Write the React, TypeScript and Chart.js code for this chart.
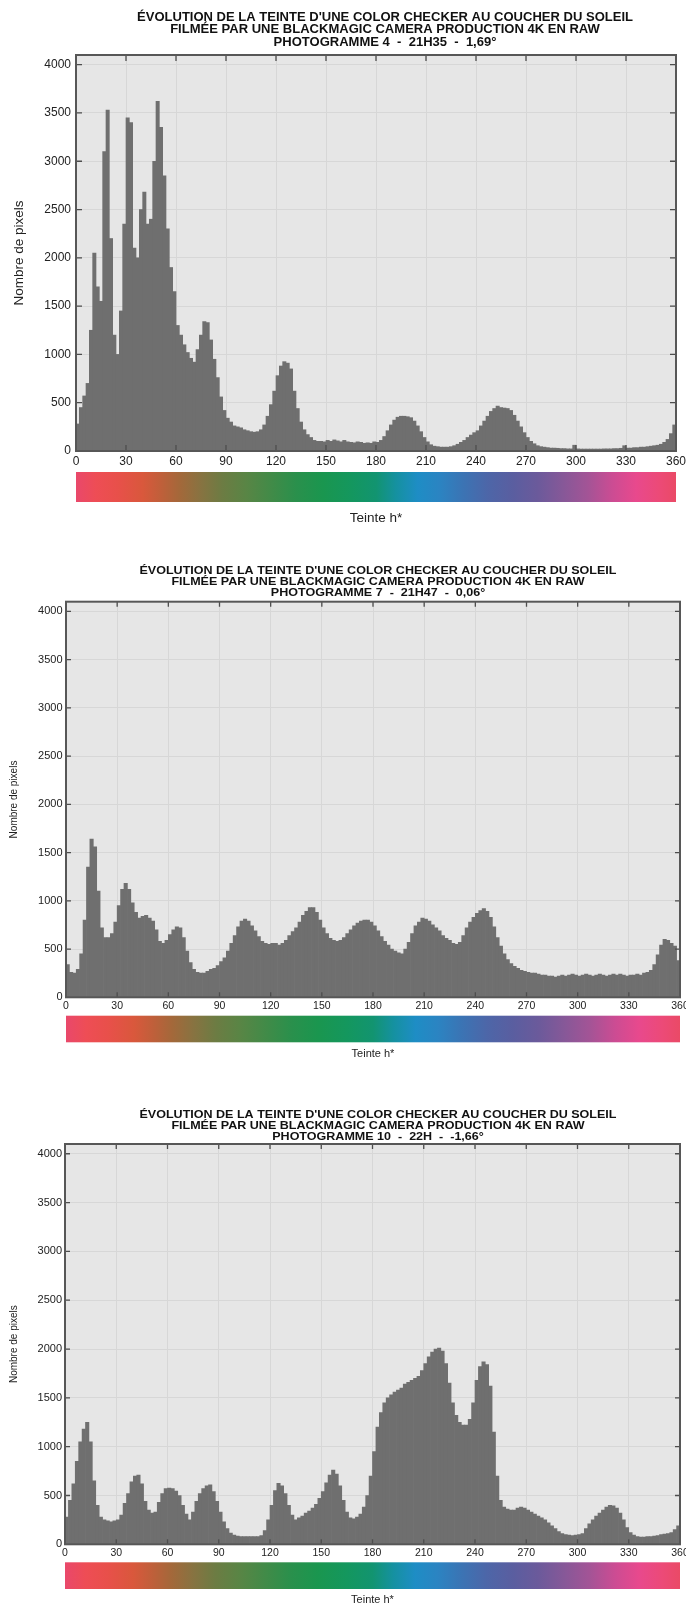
import React, { useEffect, useRef } from "react";
import { Chart, registerables } from "chart.js";

Chart.register(...registerables);

// ---------- DATA ----------
// Hue bins (2° wide, centre of each bin)
const HUE_BINS = [
  1, 3, 5, 7, 9, 11, 13, 15, 17, 19, 21, 23, 25, 27, 29,
  31, 33, 35, 37, 39, 41, 43, 45, 47, 49, 51, 53, 55, 57, 59,
  61, 63, 65, 67, 69, 71, 73, 75, 77, 79, 81, 83, 85, 87, 89,
  91, 93, 95, 97, 99, 101, 103, 105, 107, 109, 111, 113, 115, 117, 119,
  121, 123, 125, 127, 129, 131, 133, 135, 137, 139, 141, 143, 145, 147, 149,
  151, 153, 155, 157, 159, 161, 163, 165, 167, 169, 171, 173, 175, 177, 179,
  181, 183, 185, 187, 189, 191, 193, 195, 197, 199, 201, 203, 205, 207, 209,
  211, 213, 215, 217, 219, 221, 223, 225, 227, 229, 231, 233, 235, 237, 239,
  241, 243, 245, 247, 249, 251, 253, 255, 257, 259, 261, 263, 265, 267, 269,
  271, 273, 275, 277, 279, 281, 283, 285, 287, 289, 291, 293, 295, 297, 299,
  301, 303, 305, 307, 309, 311, 313, 315, 317, 319, 321, 323, 325, 327, 329,
  331, 333, 335, 337, 339, 341, 343, 345, 347, 349, 351, 353, 355, 357, 359,
];

// Photogramme 4 - 21H35 - 1,69°
const PHOTO4_COUNTS = [
  280, 450, 570, 700, 1250, 2050, 1700, 1550, 3100, 3530, 2200, 1200, 1000, 1450, 2350,
  3450, 3400, 2100, 2000, 2500, 2680, 2350, 2400, 3000, 3620, 3350, 2850, 2300, 1900, 1650,
  1300, 1200, 1100, 1020, 960, 920, 1050, 1200, 1340, 1330, 1150, 950, 760, 560, 420,
  340, 300, 260, 250, 240, 220, 210, 200, 195, 200, 220, 270, 360, 480, 620,
  780, 880, 925, 910, 850, 620, 440, 300, 220, 170, 140, 110, 100, 100, 95,
  110, 100, 115, 105, 95, 110, 95, 90, 85, 95, 90, 80, 85, 80, 95,
  90, 110, 150, 210, 270, 320, 350, 360, 360, 355, 345, 310, 260, 200, 140,
  95, 65, 50, 45, 40, 40, 40, 45, 55, 70, 90, 110, 140, 165, 190,
  210, 260, 310, 360, 410, 440, 465, 450, 445, 440, 420, 370, 310, 250, 190,
  140, 100, 75, 55, 45, 40, 35, 30, 30, 28, 25, 25, 22, 22, 60,
  22, 20, 20, 20, 20, 20, 20, 20, 22, 22, 22, 25, 25, 28, 55,
  30, 30, 35, 35, 40, 40, 45, 50, 55, 60, 70, 90, 120, 180, 270,
];

// Photogramme 7 - 21H47 - 0,06°
const PHOTO7_COUNTS = [
  340, 260, 250, 290, 450, 800, 1350, 1640, 1560, 1100, 720, 620, 620, 660, 780,
  950, 1120, 1180, 1120, 980, 880, 820, 840, 850, 820, 790, 700, 580, 560, 590,
  650, 700, 730, 720, 620, 480, 360, 290, 260, 250, 250, 270, 290, 300, 330,
  370, 410, 480, 560, 640, 730, 790, 810, 790, 740, 690, 630, 580, 560, 550,
  560, 560, 540, 560, 590, 640, 680, 720, 780, 850, 890, 930, 930, 880, 800,
  720, 660, 610, 590, 580, 590, 620, 660, 700, 740, 770, 790, 800, 800, 780,
  740, 690, 630, 580, 540, 500, 480, 460, 450, 500, 570, 660, 740, 780, 820,
  810, 790, 750, 720, 690, 640, 610, 590, 560, 550, 570, 640, 720, 780, 830,
  870, 900, 920, 890, 830, 730, 620, 530, 450, 390, 350, 320, 300, 280, 270,
  260, 250, 250, 240, 230, 230, 220, 220, 210, 220, 230, 220, 230, 240, 230,
  220, 230, 240, 230, 220, 230, 240, 230, 220, 230, 240, 230, 240, 230, 220,
  230, 230, 240, 230, 250, 260, 280, 340, 440, 540, 600, 590, 560, 530, 380,
];

// Photogramme 10 - 22H - -1,66°
const PHOTO10_COUNTS = [
  280, 450, 620, 850, 1050, 1180, 1250, 1050, 650, 400, 280, 250, 240, 230, 240,
  250, 300, 420, 520, 640, 700, 710, 620, 440, 350, 320, 330, 430, 520, 570,
  575, 570, 545, 500, 400, 310, 250, 330, 440, 520, 570, 600, 610, 540, 440,
  330, 230, 160, 115, 95, 85, 80, 78, 78, 80, 78, 80, 90, 140, 250,
  400, 550, 625, 600, 520, 400, 300, 250, 270, 290, 320, 340, 370, 410, 470,
  540, 630, 710, 760, 720, 600, 450, 330, 270, 260, 280, 310, 380, 500, 700,
  950, 1200, 1350, 1450, 1500, 1530, 1560, 1580, 1600, 1640, 1660, 1680, 1700, 1720, 1780,
  1850, 1920, 1970, 2000, 2010, 1980, 1850, 1650, 1450, 1320, 1250, 1220, 1220, 1280, 1450,
  1680, 1820, 1870, 1840, 1620, 1150, 700, 450, 380, 360, 350, 350, 370, 380, 370,
  350, 330, 310, 290, 270, 250, 220, 190, 160, 130, 110, 100, 95, 90, 95,
  100, 110, 160, 210, 250, 290, 320, 350, 380, 400, 395, 370, 320, 250, 170,
  120, 95, 80, 75, 75, 80, 80, 85, 90, 100, 105, 110, 120, 150, 190,
];

const X_TICKS = [0, 30, 60, 90, 120, 150, 180, 210, 240, 270, 300, 330, 360];
const Y_TICKS = [0, 500, 1000, 1500, 2000, 2500, 3000, 3500, 4000];
const Y_MAX = 4100;

const TITLE_LINE1 = "ÉVOLUTION DE LA TEINTE D'UNE COLOR CHECKER AU COUCHER DU SOLEIL";
const TITLE_LINE2 = "FILMÉE PAR UNE BLACKMAGIC CAMERA PRODUCTION 4K EN RAW";
const FRAME_TITLES = [
  "PHOTOGRAMME 4  -  21H35  -  1,69°",
  "PHOTOGRAMME 7  -  21H47  -  0,06°",
  "PHOTOGRAMME 10  -  22H  -  -1,66°",
];
const X_TITLE = "Teinte h*";
const Y_TITLE = "Nombre de pixels";

// ---------- STYLE ----------
const FONT = '"Liberation Sans", Arial, Helvetica, sans-serif';
const HUE_STRIP: [number, string][] = [
  [0, "#e9486b"], [12, "#ee4d55"], [25, "#e8504a"], [40, "#d9583c"], [52, "#bd603a"],
  [62, "#a4683a"], [75, "#877341"], [88, "#6c7c43"], [102, "#598545"], [118, "#408b48"],
  [132, "#2a904c"], [148, "#1a964f"], [165, "#14975e"], [180, "#129470"], [192, "#1591a0"],
  [205, "#1e8dc5"], [218, "#2b84c2"], [232, "#3b74b4"], [247, "#4d66a8"], [262, "#5a5ea0"],
  [277, "#6b5a9b"], [292, "#865898"], [307, "#a35496"], [322, "#cc4c93"], [336, "#e8498d"],
  [350, "#ec4a77"], [360, "#ea4a66"],
];

const PANELS = [
  {
    counts: PHOTO4_COUNTS, frame: FRAME_TITLES[0],
    top: 0, height: 530,
    area: { left: 76, right: 676, top: 55, bottom: 451 },
    titleX: 385, titleY: [16, 28.5, 41], titleSize: 13.5, titleWidth: 496,
    yTickSize: 12, xTickSize: 12, yTickPad: 5, xTickPad: 3.1,
    yTitleX: 19, yTitleSize: 13.5,
    strip: [472, 502], xTitleY: 518, xTitleSize: 13.5, tickLen: 6,
  },
  {
    counts: PHOTO7_COUNTS, frame: FRAME_TITLES[1],
    top: 540, height: 520,
    area: { left: 66, right: 680, top: 61.7, bottom: 457.3 },
    titleX: 378, titleY: [29.5, 40.5, 51.5], titleSize: 11.5, titleWidth: 477,
    yTickSize: 11, xTickSize: 10.5, yTickPad: 3.5, xTickPad: 2.4,
    yTitleX: 14.5, yTitleSize: 10,
    strip: [475.7, 502.3], xTitleY: 514, xTitleSize: 11, tickLen: 5,
  },
  {
    counts: PHOTO10_COUNTS, frame: FRAME_TITLES[2],
    top: 1080, height: 525,
    area: { left: 65, right: 680, top: 64, bottom: 464.3 },
    titleX: 378, titleY: [34, 45, 56], titleSize: 11.5, titleWidth: 477,
    yTickSize: 11, xTickSize: 10.5, yTickPad: 3, xTickPad: 2.1,
    yTitleX: 14.5, yTitleSize: 10,
    strip: [482.3, 509], xTitleY: 519.5, xTitleSize: 11, tickLen: 5,
  },
];

type Panel = typeof PANELS[number];

function makeConfig(p: Panel): any {
  const W = 686;
  const deco = {
    id: "deco",
    beforeDraw(chart: any) {
      const { ctx, chartArea: a } = chart;
      ctx.save();
      ctx.fillStyle = "#e6e6e6";
      ctx.fillRect(a.left, a.top, a.right - a.left, a.bottom - a.top);
      ctx.restore();
    },
    afterDraw(chart: any) {
      const { ctx, chartArea: a, scales } = chart;
      const w = a.right - a.left;
      ctx.save();
      // inward tick marks
      ctx.strokeStyle = "#4d4d4d";
      ctx.lineWidth = 1.3;
      ctx.beginPath();
      X_TICKS.forEach((v) => {
        if (v === 0 || v === 360) return;
        const px = scales.x.getPixelForValue(v);
        ctx.moveTo(px, a.top); ctx.lineTo(px, a.top + p.tickLen);
        ctx.moveTo(px, a.bottom); ctx.lineTo(px, a.bottom - p.tickLen);
      });
      Y_TICKS.forEach((v) => {
        if (v === 0) return;
        const py = scales.y.getPixelForValue(v);
        ctx.moveTo(a.left, py); ctx.lineTo(a.left + p.tickLen, py);
        ctx.moveTo(a.right, py); ctx.lineTo(a.right - p.tickLen, py);
      });
      ctx.stroke();
      // box
      ctx.strokeStyle = "#575757";
      ctx.lineWidth = 2;
      ctx.strokeRect(a.left, a.top, w, a.bottom - a.top);

      // hue strip
      const g = ctx.createLinearGradient(a.left, 0, a.right, 0);
      HUE_STRIP.forEach(([h, c]) => g.addColorStop(h / 360, c));
      ctx.fillStyle = g;
      ctx.fillRect(a.left, p.strip[0], w, p.strip[1] - p.strip[0]);

      // x title
      ctx.fillStyle = "#222";
      ctx.textAlign = "center";
      ctx.textBaseline = "middle";
      ctx.font = `${p.xTitleSize}px ${FONT}`;
      ctx.fillText(X_TITLE, (a.left + a.right) / 2, p.xTitleY);

      // y title
      ctx.save();
      ctx.translate(p.yTitleX, (a.top + a.bottom) / 2);
      ctx.rotate(-Math.PI / 2);
      ctx.font = `${p.yTitleSize}px ${FONT}`;
      ctx.fillText(Y_TITLE, 0, 0);
      ctx.restore();

      // main title (condensed bold)
      ctx.font = `bold ${p.titleSize}px ${FONT}`;
      ctx.fillStyle = "#111";
      ctx.textBaseline = "alphabetic";
      const sx = p.titleWidth / ctx.measureText(TITLE_LINE1).width;
      [TITLE_LINE1, TITLE_LINE2, p.frame].forEach((line, i) => {
        ctx.save();
        ctx.translate(p.titleX, p.titleY[i] + 0.36 * p.titleSize);
        ctx.scale(sx, 1);
        ctx.fillText(line, 0, 0);
        ctx.restore();
      });
      ctx.restore();
    },
  };

  return {
    type: "bar",
    data: {
      datasets: [
        {
          data: HUE_BINS.map((h, i) => ({ x: h, y: p.counts[i] })),
          backgroundColor: "#6f6f6f",
          borderWidth: 0,
          barPercentage: 1,
          categoryPercentage: 1,
        },
      ],
    },
    options: {
      animation: false,
      responsive: false,
      devicePixelRatio: 1,
      events: [],
      layout: { padding: { top: p.area.top, right: W - p.area.right, left: 0, bottom: 0 } },
      plugins: { legend: { display: false }, title: { display: false }, tooltip: { enabled: false } },
      scales: {
        x: {
          type: "linear",
          min: 0,
          max: 360,
          offset: false,
          grid: { color: "#d7d7d7", lineWidth: 1, drawTicks: false, offset: false },
          border: { display: false },
          ticks: {
            font: { family: FONT, size: p.xTickSize },
            color: "#222",
            padding: p.xTickPad,
            maxRotation: 0,
            autoSkip: false,
            callback: (v: any) => String(v),
          },
          afterBuildTicks: (s: any) => { s.ticks = X_TICKS.map((v) => ({ value: v })); },
          afterFit: (s: any) => {
            s.height = p.height - p.area.bottom;
            s.paddingLeft = 0; s.paddingRight = 0;
          },
        },
        y: {
          type: "linear",
          min: 0,
          max: Y_MAX,
          grid: { color: "#d7d7d7", lineWidth: 1, drawTicks: false },
          border: { display: false },
          ticks: {
            font: { family: FONT, size: p.yTickSize },
            color: "#222",
            padding: p.yTickPad,
            callback: (v: any) => String(v),
          },
          afterBuildTicks: (s: any) => { s.ticks = Y_TICKS.map((v) => ({ value: v })); },
          afterFit: (s: any) => {
            s.width = p.area.left;
            s.paddingTop = 0; s.paddingBottom = 0;
          },
        },
      },
    },
    plugins: [deco],
  };
}

function HistPanel({ panel }: { panel: Panel }) {
  const ref = useRef<HTMLCanvasElement>(null);
  useEffect(() => {
    const chart = new Chart(ref.current as HTMLCanvasElement, makeConfig(panel));
    return () => chart.destroy();
  }, [panel]);
  return (
    <canvas
      ref={ref}
      width={686}
      height={panel.height}
      style={{ position: "absolute", left: 0, top: panel.top, width: 686, height: panel.height, display: "block" }}
    />
  );
}

export default function App() {
  return (
    <div style={{ position: "absolute", left: 0, top: 0, width: 686, height: 1605, background: "#fff", overflow: "hidden" }}>
      {PANELS.map((p, i) => (
        <HistPanel key={i} panel={p} />
      ))}
    </div>
  );
}
